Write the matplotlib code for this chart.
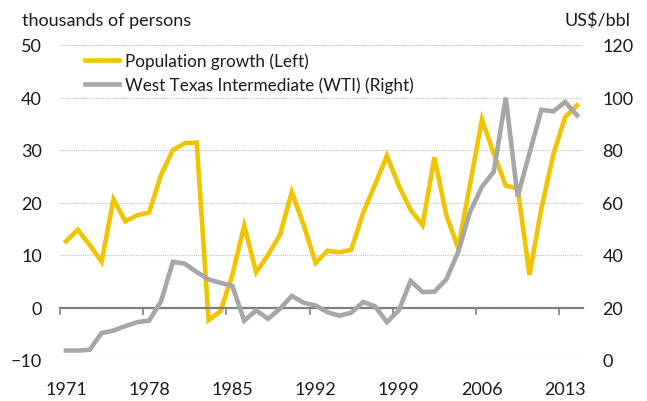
import matplotlib
matplotlib.use("Agg")
import matplotlib.pyplot as plt

plt.rcParams["font.family"] = ["Lato", "DejaVu Sans"]

years = list(range(1971, 2015))
pop_growth = [12.6, 14.8, 11.9, 8.7, 20.6, 16.4, 17.6, 18.1, 25.3, 30.0,
              31.3, 31.4, -2.4, -0.7, 6.2, 15.6, 6.7, 10.0, 13.8, 22.0,
              15.7, 8.5, 10.8, 10.5, 11.0, 18.0, 23.4, 28.9, 23.2, 18.6,
              15.7, 28.6, 17.6, 11.3, 23.5, 35.8, 29.3, 23.2, 22.7, 6.2,
              18.9, 29.1, 36.3, 38.5]
wti = [3.6, 3.6, 3.9, 10.3, 11.2, 12.9, 14.4, 15.0, 22.4, 37.4,
       36.7, 33.5, 30.7, 29.4, 28.2, 15.0, 18.9, 15.7, 19.5, 24.4,
       21.8, 20.8, 18.2, 16.9, 18.0, 22.1, 20.5, 14.4, 18.9, 30.1,
       25.9, 26.0, 30.7, 41.2, 56.5, 66.0, 71.8, 100.0, 62.2, 78.8,
       95.3, 94.7, 98.3, 93.2]
left_ticks = [-10, 0, 10, 20, 30, 40, 50]
right_ticks = [0, 20, 40, 60, 80, 100, 120]
label_every = 7

YELLOW = "#F0C400"
GREY = "#A6A6A6"
AXIS = "#808080"
TEXT = "#1a1a1a"

fig = plt.figure(figsize=(6.47, 4.02), dpi=100)
ax = fig.add_axes([60 / 647, 41 / 402, 523 / 647, 315 / 402])
ax2 = ax.twinx()

x = list(range(len(years)))
l1, = ax.plot(x, pop_growth, color=YELLOW, lw=3.3, solid_joinstyle="miter",
              label="Population growth (Left)")
l2, = ax2.plot(x, wti, color=GREY, lw=3.3, solid_joinstyle="miter",
               label="West Texas Intermediate (WTI) (Right)")

ax.set_xlim(-0.5, len(years) - 0.5)
ax.set_ylim(-10, 50)
ax2.set_ylim(0, 120)
ax.set_yticks(left_ticks)
ax2.set_yticks(right_ticks)

# dotted gridlines, solid axis line at zero
ax.yaxis.grid(True, linestyle=(0, (1, 1)), color="#BFBFBF", lw=0.8)
ax.set_axisbelow(True)
for sp in ["top", "left", "right"]:
    ax.spines[sp].set_visible(False)
    ax2.spines[sp].set_visible(False)
ax2.spines["bottom"].set_visible(False)
ax.spines["bottom"].set_position(("data", 0))
ax.spines["bottom"].set_color(AXIS)
ax.spines["bottom"].set_linewidth(1.6)

# tick marks between categories, labels centred under categories
ax.set_xticks([i - 0.5 for i in x[::label_every]])
ax.set_xticklabels([])
ax.set_xticks(x[::label_every], minor=True)
ax.set_xticklabels([str(years[i]) for i in x[::label_every]], minor=True)
ax.tick_params(axis="x", which="major", length=5, width=1.2, color=AXIS, direction="out")
ax.tick_params(axis="x", which="minor", length=0, pad=53, labelsize=13, labelcolor=TEXT)
ax.tick_params(axis="y", length=0, pad=13, labelsize=13, labelcolor=TEXT)
ax2.tick_params(axis="y", length=0, pad=14, labelsize=13, labelcolor=TEXT)

fig.text(22 / 647, 1 - 21 / 402, "thousands of persons", fontsize=13, color=TEXT,
         ha="left", va="center")
fig.text(630 / 647, 1 - 21 / 402, "US$/bbl", fontsize=13, color=TEXT,
         ha="right", va="center")

ax2.legend([l1, l2], [l1.get_label(), l2.get_label()], loc="upper left",
           bbox_to_anchor=(85 / 647, 1 - 53 / 402), bbox_transform=fig.transFigure,
           frameon=False, fontsize=12.3, handlelength=2.0, handletextpad=0.35,
           borderpad=0, borderaxespad=0, labelspacing=0.45, labelcolor=TEXT)

fig.savefig("out.png", dpi=100)
